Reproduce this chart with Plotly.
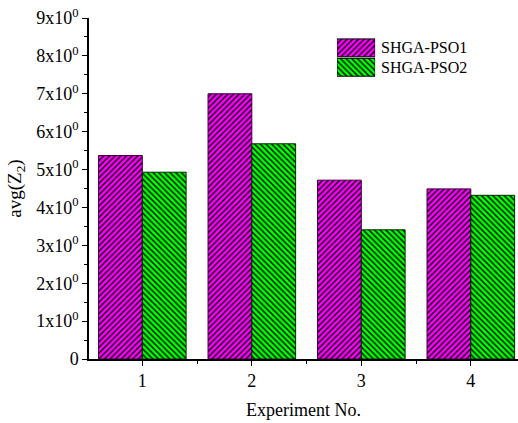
import plotly.graph_objects as go

# Average Z2 per experiment for the two hybrid optimisers
experiments = [1, 2, 3, 4]
experiment_labels = ["1", "2", "3", "4"]
pso1_values = [5.37, 7.0, 4.72, 4.49]
pso2_values = [4.93, 5.68, 3.41, 4.32]
series_names = ["SHGA-PSO1", "SHGA-PSO2"]

y_ticks = list(range(0, 10))
y_ticktext = ["0"] + [f"{v}x10<sup>0</sup>" for v in y_ticks[1:]]

FONT = "Liberation Serif, Times New Roman, serif"
MAGENTA = "#FF00FF"
GREEN = "#00FF00"

pso1_pattern = dict(shape="/", bgcolor=MAGENTA, fgcolor="black", size=4, solidity=0.35, fillmode="replace")
pso2_pattern = dict(shape="\\", bgcolor=GREEN, fgcolor="black", size=4, solidity=0.35, fillmode="replace")

fig = go.Figure()
fig.add_trace(go.Bar(
    x=experiments, y=pso1_values, name=series_names[0],
    marker=dict(color=MAGENTA, pattern=pso1_pattern, line=dict(color="#3a003a", width=1)),
    showlegend=False,
))
fig.add_trace(go.Bar(
    x=experiments, y=pso2_values, name=series_names[1],
    marker=dict(color=GREEN, pattern=pso2_pattern, line=dict(color="#002a00", width=1)),
    showlegend=False,
))

# Legend keys drawn as wide swatches on a small auxiliary axis
fig.add_trace(go.Bar(
    x=[1], y=[0], orientation="h", width=0.92, xaxis="x2", yaxis="y2",
    marker=dict(color=MAGENTA, pattern=pso1_pattern, line=dict(color="black", width=1)),
    showlegend=False, hoverinfo="skip",
))
fig.add_trace(go.Bar(
    x=[1], y=[1], orientation="h", width=0.92, xaxis="x2", yaxis="y2",
    marker=dict(color=GREEN, pattern=pso2_pattern, line=dict(color="black", width=1)),
    showlegend=False, hoverinfo="skip",
))

axis_common = dict(
    showline=True, linecolor="black", linewidth=1.5, showgrid=False, zeroline=False,
    ticks="outside", ticklen=5, tickwidth=1.2, tickcolor="black",
    tickfont=dict(family=FONT, size=18, color="black"),
)

fig.update_layout(
    width=518, height=423,
    margin=dict(l=89, r=0, t=18, b=64),
    paper_bgcolor="white", plot_bgcolor="white",
    barmode="group", bargap=0.2, bargroupgap=0,
    font=dict(family=FONT, size=18, color="black"),
    xaxis=dict(
        **axis_common,
        range=[0.513, 4.431],
        tickvals=experiments, ticktext=experiment_labels,
        minor=dict(tickvals=[1.5, 2.5, 3.5], ticks="outside", ticklen=3, tickwidth=1.2, tickcolor="black"),
        title=dict(text="Experiment No.", font=dict(family=FONT, size=18), standoff=13),
    ),
    yaxis=dict(
        **axis_common,
        range=[0, 9],
        tickvals=y_ticks, ticktext=y_ticktext,
        minor=dict(dtick=0.5, tick0=0, ticks="outside", ticklen=3, tickwidth=1.2, tickcolor="black"),
        title=dict(text="avg(Z<sub>2</sub>)", font=dict(family=FONT, size=19), standoff=10),
    ),
    xaxis2=dict(domain=[0.578, 0.667], range=[0, 1], visible=False, fixedrange=True),
    yaxis2=dict(domain=[0.827, 0.941], range=[1.5, -0.5], visible=False, fixedrange=True, anchor="x2"),
    showlegend=False,
)

for i, name in enumerate(series_names):
    fig.add_annotation(
        x=1.0, y=i, xref="x2", yref="y2", text=name, showarrow=False,
        xanchor="left", yanchor="middle", xshift=4,
        font=dict(family=FONT, size=16, color="black"),
    )

fig.write_html("out.html")
